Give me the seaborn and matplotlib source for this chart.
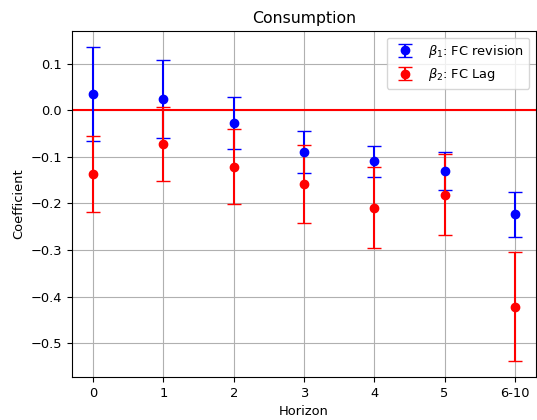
import numpy as np
import pandas as pd
import matplotlib
matplotlib.use("Agg")
import matplotlib.pyplot as plt
import seaborn as sns

horizons = ["0", "1", "2", "3", "4", "5", "6-10"]
beta1 = [0.035, 0.024, -0.028, -0.089, -0.110, -0.131, -0.223]
beta1_err = [0.101, 0.084, 0.056, 0.045, 0.033, 0.041, 0.048]
beta2 = [-0.137, -0.073, -0.121, -0.158, -0.209, -0.181, -0.422]
beta2_err = [0.081, 0.079, 0.080, 0.084, 0.087, 0.086, 0.117]

df = pd.DataFrame({"Horizon": horizons, "b1": beta1, "e1": beta1_err,
                   "b2": beta2, "e2": beta2_err})

sns.reset_orig()
plt.rcParams.update({"font.size": 9.4, "axes.titlesize": 11.3,
                     "axes.labelsize": 9.4, "xtick.labelsize": 9.4,
                     "ytick.labelsize": 9.4, "legend.fontsize": 9.4})
fig = plt.figure(figsize=(5.37, 4.2), dpi=100)
ax = fig.add_axes([0.134, 0.102, 0.864, 0.824])

x = np.arange(len(df))
ax.errorbar(x, df["b1"], yerr=df["e1"], fmt="o", color="blue", capsize=5,
            label=r"$\beta_1$: FC revision", zorder=3)
ax.errorbar(x, df["b2"], yerr=df["e2"], fmt="o", color="red", capsize=5,
            label=r"$\beta_2$: FC Lag", zorder=3)
ax.axhline(0, color="red", lw=1.5)
ax.set_xticks(x)
ax.set_xticklabels(df["Horizon"])
ax.grid(True)
ax.set_title("Consumption")
ax.set_xlabel("Horizon")
ax.set_ylabel("Coefficient")
ax.legend(loc="upper right")
fig.savefig("out.png", dpi=100)
